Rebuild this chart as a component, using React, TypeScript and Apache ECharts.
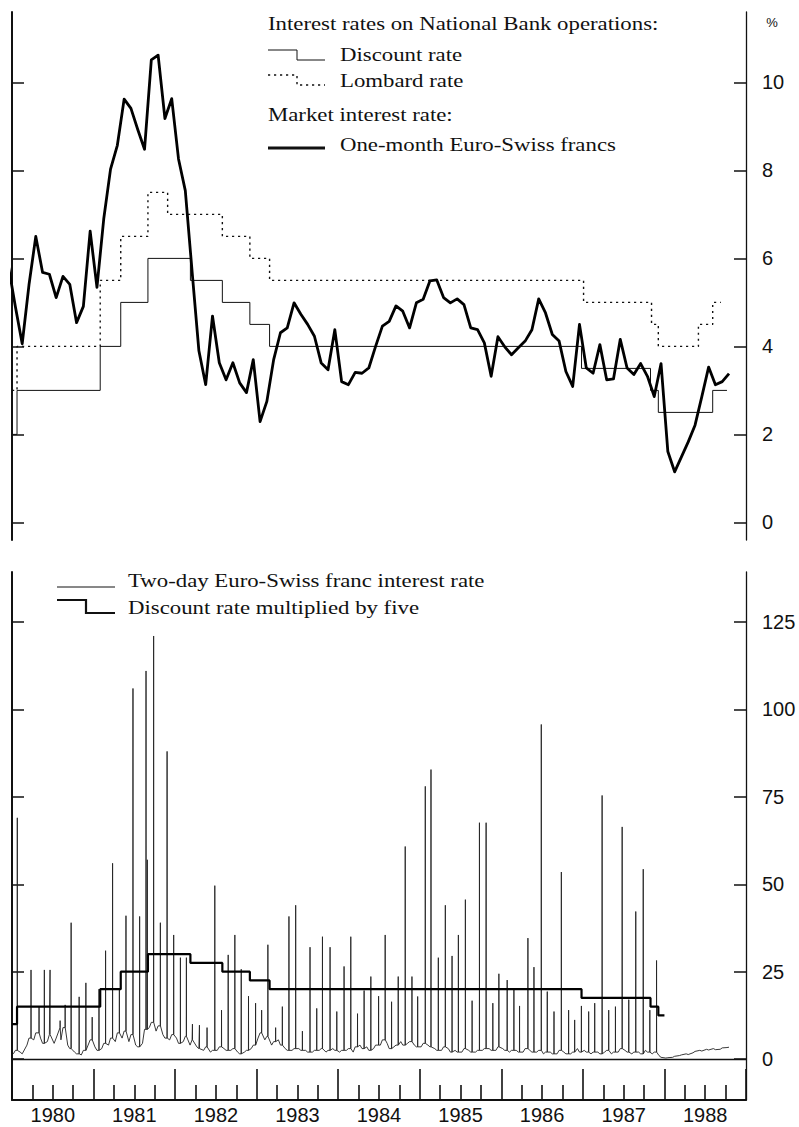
import React, { useEffect, useRef } from "react";
import * as echarts from "echarts";

// ---- axes -------------------------------------------------------------
const FIRST_YEAR = 1980;
const LAST_YEAR = 1989;
const yearLabels = [1980, 1981, 1982, 1983, 1984, 1985, 1986, 1987, 1988];
const rateTicks = [0, 2, 4, 6, 8, 10];
const twoDayTicks = [0, 25, 50, 75, 100, 125];

// ---- one-month Euro-Swiss franc rate, monthly averages (%) -------------
// first value is December 1979, then January 1980 onwards
const oneMonthFirstMonth = -1;
const oneMonthRate = [
  5.8,
  4.9, 4.06, 5.4, 6.5, 5.68, 5.64, 5.11, 5.59, 5.41, 4.54, 4.91, 6.62,
  5.34, 6.9, 8.03, 8.57, 9.62, 9.41, 8.93, 8.48, 10.51, 10.62, 9.18, 9.63,
  8.26, 7.54, 5.7, 3.9, 3.13, 4.69, 3.63, 3.24, 3.63, 3.17, 2.95, 3.7,
  2.29, 2.75, 3.7, 4.31, 4.42, 4.99, 4.73, 4.5, 4.23, 3.62, 3.47, 4.38,
  3.2, 3.13, 3.41, 3.39, 3.51, 4.0, 4.46, 4.57, 4.92, 4.8, 4.42, 4.99,
  5.07, 5.49, 5.51, 5.11, 4.99, 5.08, 4.95, 4.42, 4.38, 4.08, 3.32, 4.22,
  3.99, 3.81, 3.97, 4.12, 4.38, 5.08, 4.76, 4.27, 4.12, 3.43, 3.09, 4.5,
  3.51, 3.39, 4.04, 3.24, 3.26, 4.16, 3.51, 3.36, 3.61, 3.32, 2.86, 3.61,
  1.61, 1.15, 1.49, 1.83, 2.21, 2.86, 3.53, 3.13, 3.2, 3.38,
];

// ---- official rates (month index since Jan 1980 at which each rate applies)
const discountFrom = [0, 0.74, 12.98, 16.0, 20.0, 26.25, 30.95, 35.0, 37.9, 83.8, 93.95, 95.1, 103.1];
const discountRate = [2, 3, 4, 5, 6, 5.5, 5, 4.5, 4, 3.5, 3, 2.5, 3];
const discountUntil = 105.2;

const lombardFrom = [0, 0.74, 12.98, 16.0, 20.0, 22.9, 30.95, 35.0, 37.9, 84.1, 94.1, 95.1, 101.0, 103.1];
const lombardRate = [3, 4, 5.5, 6.5, 7.5, 7, 6.5, 6, 5.5, 5, 4.5, 4, 4.5, 5];
const lombardUntil = 104.3;

const discountFiveUntil = 96.0;
const discountMultiplier = 5;

// ---- two-day Euro-Swiss franc rate --------------------------------------
// end-of-month peaks: month index and level (%)
const spikeMonth = [
  0.78, 2.8, 3.98, 4.76, 5.6, 7.08, 7.82, 8.7, 9.88, 10.87,
  11.8, 12.8, 13.77, 14.8, 15.8, 16.77, 17.8, 18.78, 19.72, 19.91,
  20.84, 21.83, 22.82, 23.79, 24.78, 25.66, 26.55, 27.58, 28.7, 29.84,
  30.83, 31.81, 32.79, 33.73, 34.8, 35.84, 36.73, 37.65, 38.79, 39.78,
  40.75, 41.74, 42.73, 43.85, 44.84, 45.68, 46.8, 47.79, 48.86, 49.85,
  50.84, 51.81, 52.8, 53.94, 54.91, 55.85, 56.83, 57.86, 58.85, 59.69,
  60.81, 61.65, 62.73, 63.76, 64.75, 65.68, 66.71, 67.7, 68.78, 69.76,
  70.75, 71.64, 72.86, 73.85, 74.68, 75.91, 76.8, 77.88, 78.76, 79.75,
  80.83, 81.9, 82.79, 83.78, 84.85, 85.74, 86.83, 87.8, 88.79, 89.78,
  90.75, 91.78, 92.88, 93.85, 94.84,
];
const spikeValue = [
  69, 25.5, 15, 25.5, 25.5, 11, 15.5, 39, 17.8, 21.8,
  12, 20, 31, 56, 20, 41, 106, 40.8, 111, 57,
  121, 39, 88, 35.5, 29, 29, 10, 9.7, 9, 49.6,
  14, 29.8, 35.5, 25.7, 18, 16, 14, 32.7, 9, 15,
  40.8, 44, 8, 32, 14.5, 35, 32, 13.6, 26.5, 35,
  13, 19.6, 23.6, 18, 35.5, 16.4, 23.6, 60.8, 23.6, 17.9,
  78, 82.8, 29, 44, 29.5, 35.5, 45.6, 16.7, 67.6, 67.6,
  16, 24.4, 22.6, 20, 15.2, 34.6, 26.3, 95.7, 19.3, 13.6,
  53.5, 14, 11.2, 15.2, 13.6, 16, 75.4, 14, 15, 66.4,
  17, 42.2, 54.3, 14, 28.2,
];
// underlying level in the first and second half of each month, Jan 1980 onwards
const baseEarly = [
  1.5, 2.0, 4.0, 5.5, 6.0, 5.0, 4.5, 5.5, 4.0, 2.0, 1.2, 4.0,
  3.5, 3.0, 4.0, 5.0, 6.0, 5.0, 4.0, 4.5, 9.0, 8.0, 7.0, 5.5,
  6.0, 5.0, 4.0, 3.5, 2.5, 2.0, 2.5, 3.0, 2.5, 2.0, 2.0, 3.0,
  6.0, 5.5, 4.0, 5.5, 3.0, 2.5, 3.0, 2.5, 2.0, 2.5, 2.0, 3.0,
  2.0, 2.5, 2.0, 4.0, 3.5, 3.0, 4.0, 4.5, 3.5, 5.0, 4.5, 4.0,
  3.5, 4.0, 3.0, 2.5, 3.0, 2.5, 2.0, 2.5, 2.0, 2.5, 3.0, 2.5,
  3.0, 2.0, 2.5, 2.0, 2.5, 2.0, 1.5, 2.0, 1.5, 2.0, 1.5, 3.0,
  2.5, 1.5, 2.0, 2.0, 1.5, 2.0, 2.5, 1.5, 2.0, 2.5, 1.5, 1.0,
  0.3, 0.5, 1.0, 1.5, 1.8, 2.5, 2.8, 3.0, 2.8, 3.3,
];
const baseLate = [
  2.5, 1.5, 6.0, 7.5, 4.5, 7.0, 6.0, 9.0, 3.0, 1.5, 2.5, 5.5,
  2.5, 4.5, 6.0, 7.5, 8.0, 7.0, 3.5, 8.5, 10.5, 9.5, 6.0, 7.0,
  4.5, 6.5, 5.5, 3.0, 3.5, 2.5, 3.5, 2.5, 3.0, 1.5, 2.5, 4.0,
  7.5, 6.5, 5.0, 4.0, 2.5, 3.0, 2.5, 2.0, 2.5, 3.0, 2.5, 2.5,
  2.5, 3.0, 3.5, 3.0, 2.5, 4.0, 5.5, 3.0, 4.0, 4.0, 5.0, 3.5,
  4.5, 3.5, 2.5, 3.5, 2.0, 2.0, 3.0, 2.0, 2.5, 3.0, 2.5, 3.5,
  2.5, 2.5, 2.0, 3.0, 2.0, 2.5, 2.0, 1.5, 2.5, 1.5, 2.0, 2.0,
  2.0, 2.0, 1.5, 2.5, 2.0, 3.0, 2.0, 2.0, 1.5, 2.0, 2.0, 0.5,
  0.4, 0.8, 1.2, 1.3, 2.2, 2.3, 2.6, 2.7, 3.2, 3.4,
];

// ---- helpers ------------------------------------------------------------
const toYear = (m: number) => FIRST_YEAR + m / 12;

function stepLine(from: number[], rates: number[], until: number, factor = 1) {
  const pts: number[][] = [];
  for (let i = 0; i < from.length; i++) {
    const start = from[i];
    if (start >= until) break;
    const end = i + 1 < from.length ? Math.min(from[i + 1], until) : until;
    const v = rates[i] * factor;
    pts.push([toYear(start), v], [toYear(end), v]);
  }
  return pts;
}

function oneMonthLine() {
  return oneMonthRate.map((v, i) => [toYear(oneMonthFirstMonth + i + 0.5), v]);
}

function twoDayLine() {
  const pts: number[][] = [];
  for (let m = 0; m < baseEarly.length; m++) {
    pts.push([m + 0.2, baseEarly[m]], [m + 0.5, baseLate[m]]);
  }
  spikeMonth.forEach((s, i) => {
    const foot = baseLate[Math.floor(s)];
    pts.push([s - 0.012, foot], [s, spikeValue[i]], [s + 0.012, foot]);
  });
  pts.sort((a, b) => a[0] - b[0]);
  return pts.map(([m, v]) => [toYear(m), v]);
}

const serif = '"Liberation Serif", "Times New Roman", serif';
const sans = '"Liberation Sans", Arial, sans-serif';
const INK = "#111";

function legendText(x: number, y: number, text: string) {
  return {
    type: "text",
    x,
    y,
    scaleX: 1.2,
    silent: true,
    style: {
      text,
      fill: INK,
      fontSize: 19,
      fontFamily: serif,
      align: "left",
      textAlign: "left",
      verticalAlign: "middle",
      textVerticalAlign: "middle",
    },
  };
}

function legendPath(points: number[][], width: number, dash?: number[]) {
  return {
    type: "polyline",
    silent: true,
    shape: { points },
    style: { stroke: INK, lineWidth: width, fill: null, lineDash: dash },
  };
}

function buildOption() {
  const spine = (w: number) => ({ show: true, onZero: false, lineStyle: { color: INK, width: w } });
  const inTicks = (values: number[]) => ({
    show: true,
    inside: true,
    length: 12,
    customValues: values,
    lineStyle: { color: INK, width: 1.5 },
  });
  const rightLabels = (values: number[]) => ({
    show: true,
    customValues: values,
    margin: 16,
    color: INK,
    fontSize: 20,
    fontFamily: sans,
    align: "left",
  });

  return {
    animation: false,
    backgroundColor: "#fff",
    grid: [
      { left: 12, right: 53, top: 12, height: 528 },
      { left: 12, right: 53, top: 572, height: 528 },
    ],
    xAxis: [
      { gridIndex: 0, type: "value", min: FIRST_YEAR, max: LAST_YEAR, show: false },
      {
        gridIndex: 1,
        type: "value",
        min: FIRST_YEAR,
        max: LAST_YEAR,
        interval: 1,
        position: "bottom",
        axisLine: spine(2),
        axisTick: { show: true, inside: true, length: 31, lineStyle: { color: INK, width: 1.6 } },
        minorTick: { show: true, splitNumber: 4, length: 15, lineStyle: { color: INK, width: 1.6 } },
        splitLine: { show: false },
        minorSplitLine: { show: false },
        axisLabel: {
          show: true,
          customValues: yearLabels.map((y) => y + 0.5),
          formatter: (v: number) => String(Math.floor(v)),
          margin: 5,
          color: INK,
          fontSize: 20,
          fontFamily: sans,
        },
      },
    ],
    yAxis: [
      {
        gridIndex: 0, type: "value", min: -0.4, max: 11.6, position: "left",
        axisLine: spine(2), axisTick: inTicks(rateTicks), axisLabel: { show: false }, splitLine: { show: false },
      },
      {
        gridIndex: 0, type: "value", min: -0.4, max: 11.6, position: "right",
        axisLine: spine(1.3), axisTick: inTicks(rateTicks), axisLabel: rightLabels(rateTicks), splitLine: { show: false },
      },
      {
        gridIndex: 1, type: "value", min: -11.7, max: 139.3, position: "left",
        axisLine: spine(2), axisTick: inTicks(twoDayTicks), axisLabel: { show: false }, splitLine: { show: false },
      },
      {
        gridIndex: 1, type: "value", min: -11.7, max: 139.3, position: "right",
        axisLine: spine(1.3), axisTick: inTicks(twoDayTicks), axisLabel: rightLabels(twoDayTicks), splitLine: { show: false },
      },
    ],
    series: [
      {
        name: "Discount rate",
        type: "line", xAxisIndex: 0, yAxisIndex: 0, symbol: "none",
        data: stepLine(discountFrom, discountRate, discountUntil),
        lineStyle: { color: INK, width: 1 },
      },
      {
        name: "Lombard rate",
        type: "line", xAxisIndex: 0, yAxisIndex: 0, symbol: "none",
        data: stepLine(lombardFrom, lombardRate, lombardUntil),
        lineStyle: { color: INK, width: 1.4, type: [2.2, 3.8] },
      },
      {
        name: "One-month Euro-Swiss francs",
        type: "line", xAxisIndex: 0, yAxisIndex: 0, symbol: "none",
        data: oneMonthLine(),
        lineStyle: { color: "#000", width: 2.8, join: "round" },
      },
      {
        name: "Two-day Euro-Swiss franc interest rate",
        type: "line", xAxisIndex: 1, yAxisIndex: 2, symbol: "none",
        data: twoDayLine(),
        lineStyle: { color: "#222", width: 0.9 },
        markLine: {
          silent: true,
          symbol: ["none", "none"],
          label: { show: false },
          lineStyle: { color: INK, width: 1.3, type: "solid" },
          data: [{ yAxis: 0 }],
        },
      },
      {
        name: "Discount rate multiplied by five",
        type: "line", xAxisIndex: 1, yAxisIndex: 2, symbol: "none",
        data: stepLine(discountFrom, discountRate, discountFiveUntil, discountMultiplier),
        lineStyle: { color: "#000", width: 2.2 },
      },
    ],
    graphic: [
      legendText(268, 24, "Interest rates on National Bank operations:"),
      legendPath([[268, 50], [297, 50], [297, 60], [325, 60]], 1),
      legendText(340, 54.5, "Discount rate"),
      legendPath([[268, 75], [297, 75], [297, 85], [325, 85]], 1.4, [2.2, 3.8]),
      legendText(340, 80.5, "Lombard rate"),
      legendText(268, 115, "Market interest rate:"),
      legendPath([[268, 148], [325, 148]], 2.8),
      legendText(340, 144.5, "One-month Euro-Swiss francs"),
      {
        type: "text", x: 772, y: 22, silent: true,
        style: { text: "%", fill: INK, fontSize: 13, fontFamily: sans, align: "center", textAlign: "center", verticalAlign: "middle", textVerticalAlign: "middle" },
      },
      legendPath([[57, 587], [115, 587]], 1),
      legendText(128, 581, "Two-day Euro-Swiss franc interest rate"),
      legendPath([[57, 600], [86, 600], [86, 613], [115, 613]], 2.2),
      legendText(128, 608, "Discount rate multiplied by five"),
    ],
  };
}

export default function App() {
  const ref = useRef<HTMLDivElement>(null);
  useEffect(() => {
    const chart = echarts.init(ref.current!, null, { renderer: "svg" });
    chart.setOption(buildOption() as any);
    return () => chart.dispose();
  }, []);
  return (
    <div
      ref={ref}
      style={{ position: "absolute", left: 0, top: 0, width: 799, height: 1127, background: "#fff" }}
    />
  );
}
